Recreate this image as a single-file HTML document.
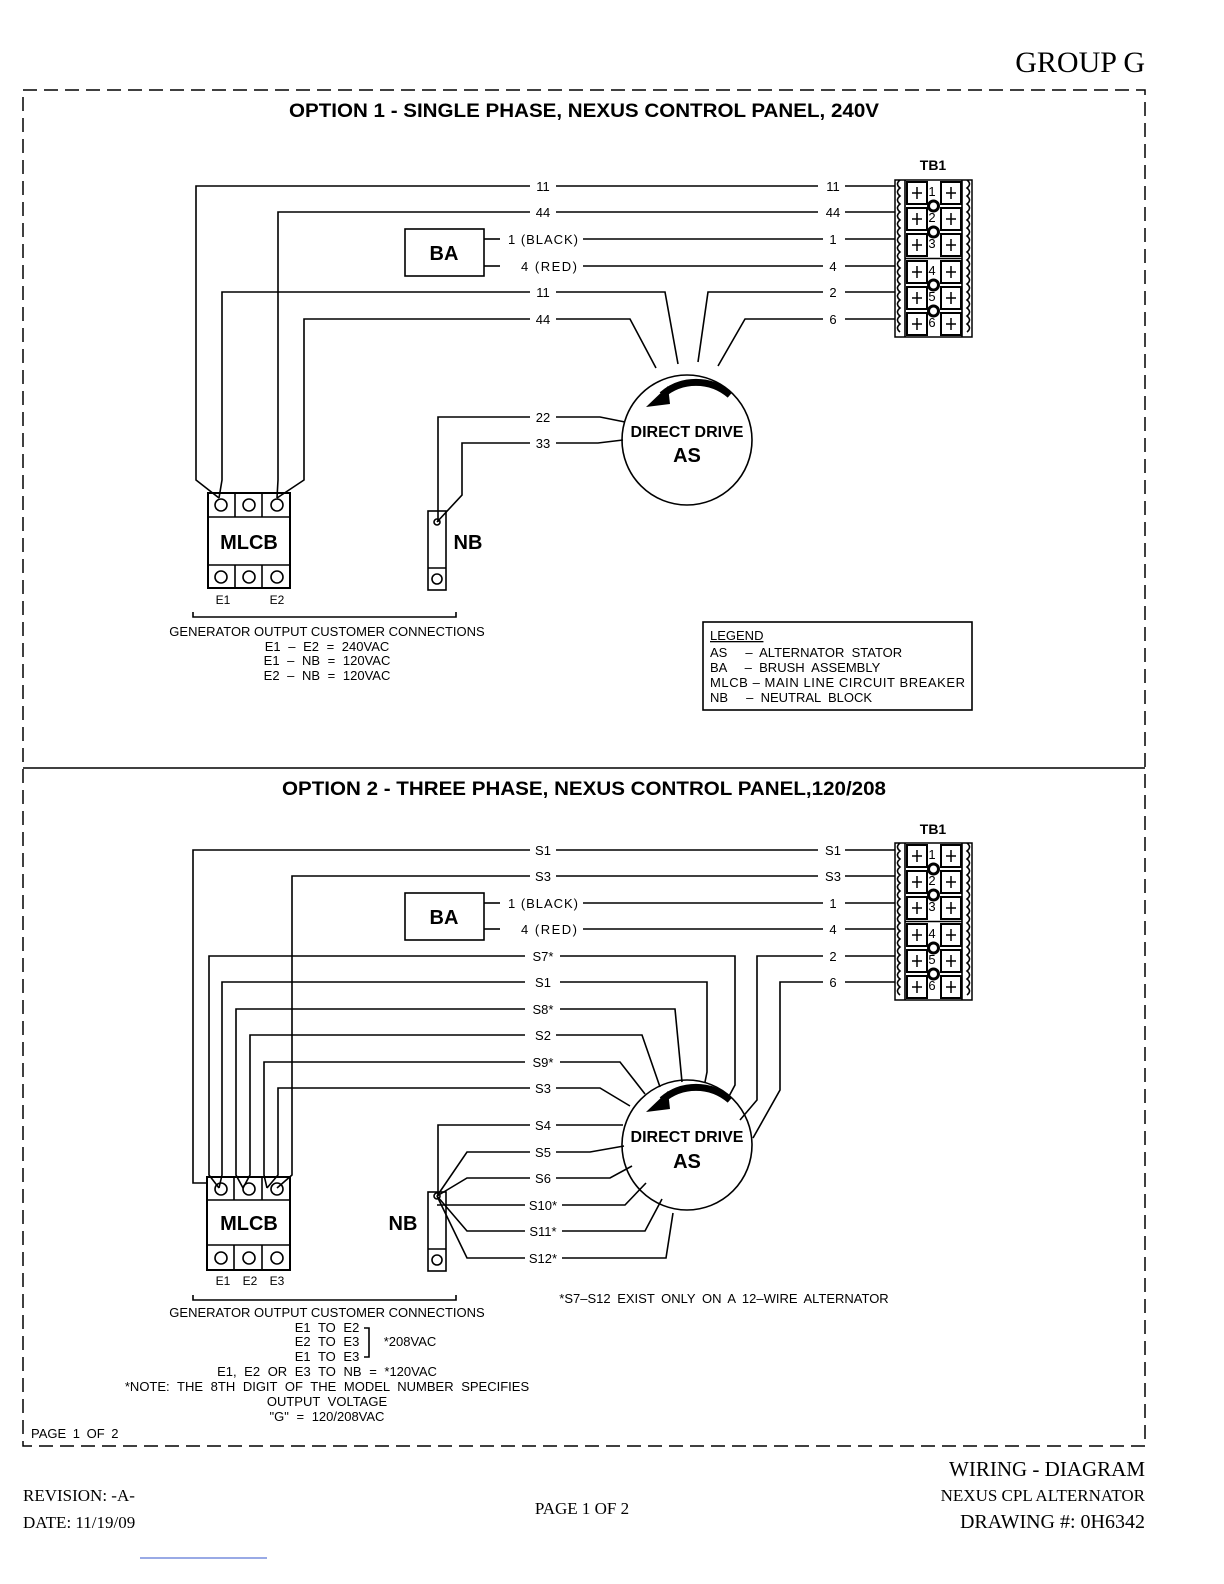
<!DOCTYPE html>
<html><head><meta charset="utf-8"><style>
body{margin:0;background:#fff}
svg{display:block}
.t{font-family:"Liberation Sans",sans-serif;font-size:13px}
.b{font-family:"Liberation Sans",sans-serif;font-weight:bold}
.s{font-family:"Liberation Serif",serif}
</style></head><body>
<svg width="1224" height="1584" viewBox="0 0 1224 1584" xmlns="http://www.w3.org/2000/svg">
<defs>
<g id="tb" fill="none" stroke="#000">
<rect x="0" y="0" width="77" height="157" stroke-width="1.5"/>
<line x1="10" y1="0" x2="10" y2="157"/><line x1="67" y1="0" x2="67" y2="157"/>
<path d="M5 0 q-5 4 0 8 q-5 4 0 8 q-5 4 0 8 q-5 4 0 8 q-5 4 0 8 q-5 4 0 8 q-5 4 0 8 q-5 4 0 8 q-5 4 0 8 q-5 4 0 8 q-5 4 0 8 q-5 4 0 8 q-5 4 0 8 q-5 4 0 8 q-5 4 0 8 q-5 4 0 8 q-5 4 0 8 q-5 4 0 8 q-5 4 0 8"/>
<path d="M72 0 q5 4 0 8 q5 4 0 8 q5 4 0 8 q5 4 0 8 q5 4 0 8 q5 4 0 8 q5 4 0 8 q5 4 0 8 q5 4 0 8 q5 4 0 8 q5 4 0 8 q5 4 0 8 q5 4 0 8 q5 4 0 8 q5 4 0 8 q5 4 0 8 q5 4 0 8 q5 4 0 8 q5 4 0 8"/>
<g stroke-width="2">
<rect x="12" y="2" width="20" height="22"/><rect x="46" y="2" width="20" height="22"/>
<rect x="12" y="28" width="20" height="22"/><rect x="46" y="28" width="20" height="22"/>
<rect x="12" y="54" width="20" height="22"/><rect x="46" y="54" width="20" height="22"/>
<rect x="12" y="81" width="20" height="22"/><rect x="46" y="81" width="20" height="22"/>
<rect x="12" y="107" width="20" height="22"/><rect x="46" y="107" width="20" height="22"/>
<rect x="12" y="133" width="20" height="22"/><rect x="46" y="133" width="20" height="22"/>
</g>
<line x1="10" y1="78.5" x2="67" y2="78.5"/>
<g stroke-width="3" fill="#fff"><circle cx="38.5" cy="26" r="5"/><circle cx="38.5" cy="52" r="5"/><circle cx="38.5" cy="105" r="5"/><circle cx="38.5" cy="131" r="5"/></g>
<g stroke-width="1.5">
<path d="M17 13h10M22 7v12M51 13h10M56 7v12"/><path d="M17 39h10M22 33v12M51 39h10M56 33v12"/>
<path d="M17 65h10M22 59v12M51 65h10M56 59v12"/><path d="M17 92h10M22 86v12M51 92h10M56 86v12"/>
<path d="M17 118h10M22 112v12M51 118h10M56 112v12"/><path d="M17 144h10M22 138v12M51 144h10M56 138v12"/>
</g>
</g>
</defs>

<text x="1145" y="72" class="s" font-size="30" text-anchor="end">GROUP G</text>
<g fill="none" stroke="#000" stroke-width="1.5" stroke-dasharray="14,7">
<rect x="23" y="90" width="1122" height="1356"/>
</g>
<line x1="23" y1="768" x2="1145" y2="768" stroke="#000" stroke-width="1.5"/>

<text x="289" y="117" class="b" font-size="19" textLength="590" lengthAdjust="spacingAndGlyphs">OPTION 1 - SINGLE PHASE, NEXUS CONTROL PANEL, 240V</text>
<text x="282" y="795" class="b" font-size="19" textLength="604" lengthAdjust="spacingAndGlyphs">OPTION 2 - THREE PHASE, NEXUS CONTROL PANEL,120/208</text>

<!-- OPTION 1 -->
<g fill="none" stroke="#000" stroke-width="1.6">
<use href="#tb" x="895" y="180"/>
<polyline points="530,186 196,186 196,480 219,498"/>
<polyline points="556,186 818,186"/><polyline points="845,186 895,186"/>
<polyline points="530,212 278,212 278,480 277,498"/>
<polyline points="556,212 818,212"/><polyline points="845,212 895,212"/>
<rect x="405" y="229" width="79" height="47"/>
<polyline points="484,239 500,239"/><polyline points="484,266 500,266"/>
<polyline points="583,239 823,239"/><polyline points="845,239 895,239"/>
<polyline points="583,266 823,266"/><polyline points="845,266 895,266"/>
<polyline points="530,292 222,292 222,480 219,498"/>
<polyline points="556,292 665,292 678,364"/>
<polyline points="530,319 304,319 304,480 277,498"/>
<polyline points="556,319 630,319 656,368"/>
<polyline points="823,292 708,292 698,362"/><polyline points="845,292 895,292"/>
<polyline points="823,319 745,319 718,366"/><polyline points="845,319 895,319"/>
<circle cx="687" cy="440" r="65"/>
<polyline points="530,417 438,417 438,522"/>
<polyline points="556,417 600,417 625,422"/>
<polyline points="530,443 462,443 462,495 437,522"/>
<polyline points="556,443 598,443 623,440"/>
<rect x="208" y="493" width="82" height="95" stroke-width="2"/>
<line x1="208" y1="517" x2="290" y2="517"/><line x1="208" y1="565" x2="290" y2="565"/>
<line x1="235" y1="493" x2="235" y2="517"/><line x1="262" y1="493" x2="262" y2="517"/>
<line x1="235" y1="565" x2="235" y2="588"/><line x1="262" y1="565" x2="262" y2="588"/>
<circle cx="221" cy="505" r="6"/><circle cx="249" cy="505" r="6"/><circle cx="277" cy="505" r="6"/>
<circle cx="221" cy="577" r="6"/><circle cx="249" cy="577" r="6"/><circle cx="277" cy="577" r="6"/>
<rect x="428" y="511" width="18" height="79"/><line x1="428" y1="568" x2="446" y2="568"/>
<circle cx="437" cy="579" r="5"/><circle cx="437" cy="522" r="3"/>
<polyline points="193,612 193,617 456,617 456,612"/>
<rect x="703" y="622" width="269" height="88"/>
</g>
<path d="M730 395 A52 52 0 0 0 662 395" fill="none" stroke="#000" stroke-width="7"/>
<polygon points="646,407 668,386 670,404" fill="#000"/>
<g class="t" text-anchor="middle">
<text x="543" y="191">11</text><text x="833" y="191">11</text>
<text x="543" y="217">44</text><text x="833" y="217">44</text>
<text x="543" y="244" textLength="70">1 (BLACK)</text><text x="833" y="244">1</text>
<text x="549" y="271" textLength="56">4 (RED)</text><text x="833" y="271">4</text>
<text x="543" y="297">11</text><text x="833" y="297">2</text>
<text x="543" y="324">44</text><text x="833" y="324">6</text>
<text x="543" y="422">22</text><text x="543" y="448">33</text>
<text x="223" y="604" font-size="12">E1</text><text x="277" y="604" font-size="12">E2</text>
<text x="327" y="636">GENERATOR OUTPUT CUSTOMER CONNECTIONS</text>
<text x="327" y="651" word-spacing="4">E1 – E2 = 240VAC</text>
<text x="327" y="665" word-spacing="4">E1 – NB = 120VAC</text>
<text x="327" y="680" word-spacing="4">E2 – NB = 120VAC</text>
</g>
<g class="t" font-size="13"><text x="710" y="640" text-decoration="underline">LEGEND</text>
<text x="710" y="657" xml:space="preserve">AS     –  ALTERNATOR  STATOR</text>
<text x="710" y="672" xml:space="preserve">BA     –  BRUSH  ASSEMBLY</text>
<text x="710" y="687" textLength="255" xml:space="preserve">MLCB – MAIN LINE CIRCUIT BREAKER</text>
<text x="710" y="702" xml:space="preserve">NB     –  NEUTRAL  BLOCK</text></g>
<g class="b" text-anchor="middle">
<text x="933" y="170" font-size="14">TB1</text>
<text x="444" y="260" font-size="20">BA</text>
<text x="249" y="549" font-size="20">MLCB</text>
<text x="468" y="549" font-size="20">NB</text>
<text x="687" y="437" font-size="16">DIRECT DRIVE</text>
<text x="687" y="462" font-size="20">AS</text>
</g>
<g class="t" text-anchor="middle" font-size="14">
<text x="932" y="196">1</text><text x="932" y="222">2</text><text x="932" y="248">3</text>
<text x="932" y="275">4</text><text x="932" y="301">5</text><text x="932" y="327">6</text>
</g>

<!-- OPTION 2 -->
<g fill="none" stroke="#000" stroke-width="1.6">
<use href="#tb" x="895" y="843"/>
<polyline points="530,850 193,850 193,1183 208,1183"/>
<polyline points="556,850 818,850"/><polyline points="845,850 895,850"/>
<polyline points="530,876 292,876 292,1175 277,1188"/>
<polyline points="556,876 818,876"/><polyline points="845,876 895,876"/>
<rect x="405" y="893" width="79" height="47"/>
<polyline points="484,903 500,903"/><polyline points="484,929 500,929"/>
<polyline points="583,903 823,903"/><polyline points="845,903 895,903"/>
<polyline points="583,929 823,929"/><polyline points="845,929 895,929"/>
<polyline points="823,956 757,956 757,1100 740,1120"/><polyline points="845,956 895,956"/>
<polyline points="823,982 780,982 780,1090 753,1138"/><polyline points="845,982 895,982"/>
<polyline points="525,956 209,956 209,1175 219,1188"/>
<polyline points="560,956 735,956 735,1085 727,1100"/>
<polyline points="525,982 222,982 222,1175 219,1188"/>
<polyline points="560,982 707,982 707,1072 705,1082"/>
<polyline points="525,1009 236,1009 236,1175 243,1188"/>
<polyline points="560,1009 675,1009 682,1082"/>
<polyline points="525,1035 250,1035 250,1175 243,1188"/>
<polyline points="556,1035 642,1035 660,1087"/>
<polyline points="525,1062 264,1062 264,1175 267,1188"/>
<polyline points="560,1062 620,1062 645,1094"/>
<polyline points="530,1088 278,1088 278,1175 267,1188"/>
<polyline points="556,1088 600,1088 630,1106"/>
<circle cx="687" cy="1145" r="65"/>
<polyline points="530,1125 438,1125 438,1196"/>
<polyline points="556,1125 623,1125"/>
<polyline points="530,1152 467,1152 437,1196"/>
<polyline points="556,1152 590,1152 624,1146"/>
<polyline points="530,1178 467,1178 437,1196"/>
<polyline points="556,1178 610,1178 632,1166"/>
<polyline points="525,1205 437,1205"/>
<polyline points="562,1205 625,1205 646,1183"/>
<polyline points="525,1231 467,1231 437,1196"/>
<polyline points="562,1231 645,1231 662,1199"/>
<polyline points="525,1258 467,1258 437,1196"/>
<polyline points="562,1258 666,1258 673,1213"/>
<rect x="207" y="1177" width="83" height="93" stroke-width="2"/>
<line x1="207" y1="1200" x2="290" y2="1200"/><line x1="207" y1="1245" x2="290" y2="1245"/>
<line x1="234" y1="1177" x2="234" y2="1200"/><line x1="262" y1="1177" x2="262" y2="1200"/>
<line x1="234" y1="1245" x2="234" y2="1270"/><line x1="262" y1="1245" x2="262" y2="1270"/>
<circle cx="221" cy="1189" r="6"/><circle cx="249" cy="1189" r="6"/><circle cx="277" cy="1189" r="6"/>
<circle cx="221" cy="1258" r="6"/><circle cx="249" cy="1258" r="6"/><circle cx="277" cy="1258" r="6"/>
<rect x="428" y="1192" width="18" height="79"/><line x1="428" y1="1249" x2="446" y2="1249"/>
<circle cx="437" cy="1260" r="5"/><circle cx="437" cy="1196" r="3"/>
<polyline points="193,1295 193,1300 456,1300 456,1295"/>
<polyline points="364,1328 369,1328 369,1357 364,1357"/>
</g>
<path d="M730 1100 A52 52 0 0 0 662 1100" fill="none" stroke="#000" stroke-width="7"/>
<polygon points="646,1112 668,1091 670,1109" fill="#000"/>
<g class="t" text-anchor="middle">
<text x="543" y="855">S1</text><text x="833" y="855">S1</text>
<text x="543" y="881">S3</text><text x="833" y="881">S3</text>
<text x="543" y="908" textLength="70">1 (BLACK)</text><text x="833" y="908">1</text>
<text x="549" y="934" textLength="56">4 (RED)</text><text x="833" y="934">4</text>
<text x="543" y="961">S7*</text><text x="833" y="961">2</text>
<text x="543" y="987">S1</text><text x="833" y="987">6</text>
<text x="543" y="1014">S8*</text><text x="543" y="1040">S2</text>
<text x="543" y="1067">S9*</text><text x="543" y="1093">S3</text>
<text x="543" y="1130">S4</text><text x="543" y="1157">S5</text>
<text x="543" y="1183">S6</text><text x="543" y="1210">S10*</text>
<text x="543" y="1236">S11*</text><text x="543" y="1263">S12*</text>
<text x="223" y="1285" font-size="12">E1</text><text x="250" y="1285" font-size="12">E2</text><text x="277" y="1285" font-size="12">E3</text>
<text x="327" y="1317">GENERATOR OUTPUT CUSTOMER CONNECTIONS</text>
<text x="327" y="1332" word-spacing="4">E1 TO E2</text>
<text x="327" y="1346" word-spacing="4">E2 TO E3</text>
<text x="327" y="1361" word-spacing="4">E1 TO E3</text>
<text x="410" y="1346">*208VAC</text>
<text x="327" y="1376" word-spacing="4">E1, E2 OR E3 TO NB = *120VAC</text>
<text x="327" y="1391" word-spacing="4">*NOTE: THE 8TH DIGIT OF THE MODEL NUMBER SPECIFIES</text>
<text x="327" y="1406" word-spacing="4">OUTPUT VOLTAGE</text>
<text x="327" y="1421" word-spacing="4">"G" = 120/208VAC</text>
<text x="724" y="1303" word-spacing="3">*S7–S12 EXIST ONLY ON A 12–WIRE ALTERNATOR</text>
</g>
<text x="31" y="1438" class="t" word-spacing="3">PAGE 1 OF 2</text>
<g class="b" text-anchor="middle">
<text x="933" y="834" font-size="14">TB1</text>
<text x="444" y="924" font-size="20">BA</text>
<text x="249" y="1230" font-size="20">MLCB</text>
<text x="403" y="1230" font-size="20">NB</text>
<text x="687" y="1142" font-size="16">DIRECT DRIVE</text>
<text x="687" y="1168" font-size="20">AS</text>
</g>
<g class="t" text-anchor="middle" font-size="14">
<text x="932" y="859">1</text><text x="932" y="885">2</text><text x="932" y="911">3</text>
<text x="932" y="938">4</text><text x="932" y="964">5</text><text x="932" y="990">6</text>
</g>

<!-- footer -->
<g class="s">
<text x="1145" y="1476" font-size="21" text-anchor="end">WIRING - DIAGRAM</text>
<text x="1145" y="1501" font-size="17" text-anchor="end">NEXUS CPL ALTERNATOR</text>
<text x="1145" y="1528" font-size="20" text-anchor="end">DRAWING #: 0H6342</text>
<text x="23" y="1501" font-size="17">REVISION: -A-</text>
<text x="23" y="1528" font-size="17">DATE: 11/19/09</text>
<text x="582" y="1514" font-size="17" text-anchor="middle">PAGE 1 OF 2</text>
</g>
<line x1="140" y1="1558" x2="267" y2="1558" stroke="#3355cc" stroke-width="1"/>
</svg>
</body></html>
